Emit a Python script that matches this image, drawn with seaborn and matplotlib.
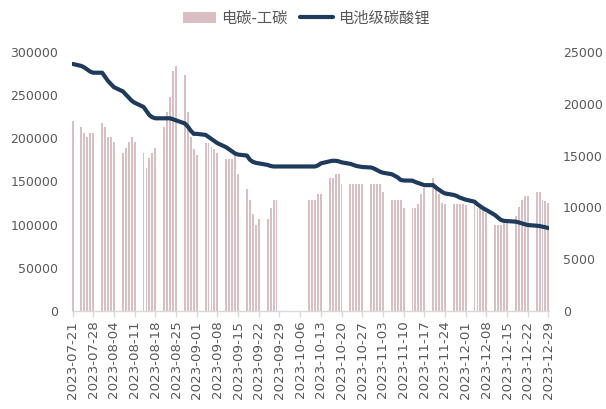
import numpy as np
import pandas as pd
import matplotlib
matplotlib.use("Agg")
import matplotlib.pyplot as plt
import matplotlib.dates as mdates
from matplotlib.patches import Patch
from matplotlib.lines import Line2D
import seaborn as sns

dates = [
    "2023-07-21", "2023-07-24", "2023-07-25", "2023-07-26", "2023-07-27", "2023-07-28", "2023-07-31",
    "2023-08-01", "2023-08-02", "2023-08-03", "2023-08-04",
    "2023-08-07", "2023-08-08", "2023-08-09", "2023-08-10", "2023-08-11",
    "2023-08-14", "2023-08-15", "2023-08-16", "2023-08-17", "2023-08-18",
    "2023-08-21", "2023-08-22", "2023-08-23", "2023-08-24", "2023-08-25",
    "2023-08-28", "2023-08-29", "2023-08-30", "2023-08-31", "2023-09-01",
    "2023-09-04", "2023-09-05", "2023-09-06", "2023-09-07", "2023-09-08",
    "2023-09-11", "2023-09-12", "2023-09-13", "2023-09-14", "2023-09-15",
    "2023-09-18", "2023-09-19", "2023-09-20", "2023-09-21", "2023-09-22",
    "2023-09-25", "2023-09-26", "2023-09-27", "2023-09-28",
    "2023-10-09", "2023-10-10", "2023-10-11", "2023-10-12", "2023-10-13",
    "2023-10-16", "2023-10-17", "2023-10-18", "2023-10-19", "2023-10-20",
    "2023-10-23", "2023-10-24", "2023-10-25", "2023-10-26", "2023-10-27",
    "2023-10-30", "2023-10-31", "2023-11-01", "2023-11-02", "2023-11-03",
    "2023-11-06", "2023-11-07", "2023-11-08", "2023-11-09", "2023-11-10",
    "2023-11-13", "2023-11-14", "2023-11-15", "2023-11-16", "2023-11-17",
    "2023-11-20", "2023-11-21", "2023-11-22", "2023-11-23", "2023-11-24",
    "2023-11-27", "2023-11-28", "2023-11-29", "2023-11-30", "2023-12-01",
    "2023-12-04", "2023-12-05", "2023-12-06", "2023-12-07", "2023-12-08",
    "2023-12-11", "2023-12-12", "2023-12-13", "2023-12-14", "2023-12-15",
    "2023-12-18", "2023-12-19", "2023-12-20", "2023-12-21", "2023-12-22",
    "2023-12-25", "2023-12-26", "2023-12-27", "2023-12-28", "2023-12-29",
]

spread = [
    220000, 213000, 206000, 201000, 206000, 206000, 218000,
    213000, 201000, 201000, 196000,
    183000, 189000, 196000, 201000, 196000,
    183000, 166000, 177000, 183000, 189000,
    213000, 231000, 248000, 278000, 284000,
    273000, 231000, 201000, 188000, 181000,
    195000, 195000, 190000, 188000, 183000,
    176000, 176000, 176000, 182000, 159000,
    141000, 129000, 112000, 100000, 106000,
    106000, 119000, 129000, 129000,
    129000, 129000, 129000, 136000, 136000,
    154000, 154000, 159000, 159000, 147000,
    147000, 147000, 147000, 147000, 147000,
    147000, 147000, 147000, 147000, 138000,
    129000, 129000, 129000, 129000, 119000,
    119000, 119000, 124000, 136000, 143000,
    154000, 146000, 136000, 125000, 124000,
    124000, 124000, 124000, 124000, 123000,
    124000, 119000, 119000, 119000, 113000,
    100000, 100000, 100000, 102000, 102000,
    110000, 120000, 128000, 133000, 133000,
    138000, 138000, 128000, 127000, 125000,
]

lithium = [
    23850, 23650, 23500, 23300, 23100, 23000, 23000,
    22600, 22200, 21900, 21600,
    21200, 20900, 20600, 20300, 20100,
    19700, 19300, 18900, 18700, 18600,
    18600, 18600, 18600, 18500, 18400,
    18100, 17800, 17400, 17100, 17100,
    17000, 16800, 16600, 16400, 16200,
    15800, 15600, 15400, 15200, 15100,
    15000, 14600, 14400, 14300, 14250,
    14100, 14000, 13950, 13950,
    13950, 13950, 13950, 14050, 14250,
    14450, 14500, 14500, 14450, 14350,
    14200, 14100, 14000, 13950, 13900,
    13850, 13750, 13600, 13450, 13350,
    13200, 13050, 12900, 12650, 12600,
    12580, 12450, 12350, 12250, 12150,
    12150, 11900, 11700, 11500, 11350,
    11200, 11100, 10950, 10850, 10750,
    10550, 10300, 10100, 9900, 9750,
    9250, 9000, 8780, 8700, 8680,
    8620, 8550, 8460, 8380, 8300,
    8230, 8200, 8140, 8080, 8000,
]

tick_labels = [
    "2023-07-21", "2023-07-28", "2023-08-04", "2023-08-11", "2023-08-18", "2023-08-25",
    "2023-09-01", "2023-09-08", "2023-09-15", "2023-09-22", "2023-09-29", "2023-10-06",
    "2023-10-13", "2023-10-20", "2023-10-27", "2023-11-03", "2023-11-10", "2023-11-17",
    "2023-11-24", "2023-12-01", "2023-12-08", "2023-12-15", "2023-12-22", "2023-12-29",
]

series_bar = "电碳-工碳"
series_line = "电池级碳酸锂"

left_ticks = [0, 50000, 100000, 150000, 200000, 250000, 300000]
right_ticks = [0, 5000, 10000, 15000, 20000, 25000]

sns.set_theme(style="white")
plt.rcParams["font.family"] = ["DejaVu Sans", "Noto Sans CJK SC"]

bar_color = "#D9BEC3"
line_color = "#1F3B5C"
text_color = "#595959"

xnum = mdates.date2num(pd.to_datetime(dates))
df = pd.DataFrame({"x": xnum, "spread": spread, "lithium": lithium})

fig = plt.figure(figsize=(6.06, 4.09), dpi=100)
ax = fig.add_axes([72 / 606, 1 - 311 / 409, (549 - 72) / 606, (311 - 52) / 409])

sns.barplot(data=df, x="x", y="spread", native_scale=True, ax=ax,
            color=bar_color, width=0.65, saturation=1, linewidth=0, errorbar=None)

ax2 = ax.twinx()
sns.lineplot(data=df, x="x", y="lithium", ax=ax2, color=line_color, linewidth=3.0)

tick_nums = mdates.date2num(pd.to_datetime(tick_labels))
ax.set_xlim(tick_nums[0] - 0.2, tick_nums[-1] + 0.2)
ax.set_xticks(tick_nums)
ax.set_xticklabels(tick_labels, rotation=90, fontsize=9.6, color=text_color)
ax.set_ylim(0, 300000)
ax.set_yticks(left_ticks)
ax.set_yticklabels([str(v) for v in left_ticks], fontsize=9, color=text_color)
ax2.set_ylim(0, 25000)
ax2.set_yticks(right_ticks)
ax2.set_yticklabels([str(v) for v in right_ticks], fontsize=9, color=text_color)

for a in (ax, ax2):
    a.set_xlabel("")
    a.set_ylabel("")
    for s in ("left", "right", "top", "bottom"):
        a.spines[s].set_visible(False)
ax.spines["bottom"].set_visible(True)
ax.spines["bottom"].set_color("#D9D9D9")
ax.spines["bottom"].set_linewidth(1.0)
ax.tick_params(axis="x", which="major", length=4, width=1, color="#D9D9D9", pad=3, bottom=True)
ax.tick_params(axis="y", length=0, pad=10)
ax2.tick_params(axis="y", length=0, pad=10)
ax.grid(False)
ax2.grid(False)

handles = [Patch(facecolor=bar_color, edgecolor="none"),
           Line2D([0], [0], color=line_color, linewidth=3.0)]
fig.legend(handles, [series_bar, series_line], loc="center", bbox_to_anchor=(0.505, 1 - 18 / 409),
           ncol=2, frameon=False, handlelength=2.2, handletextpad=0.3,
           columnspacing=0.8, prop={"family": ["Noto Sans CJK SC", "DejaVu Sans"], "size": 11},
           labelcolor=text_color)

fig.savefig("out.png", dpi=100)
